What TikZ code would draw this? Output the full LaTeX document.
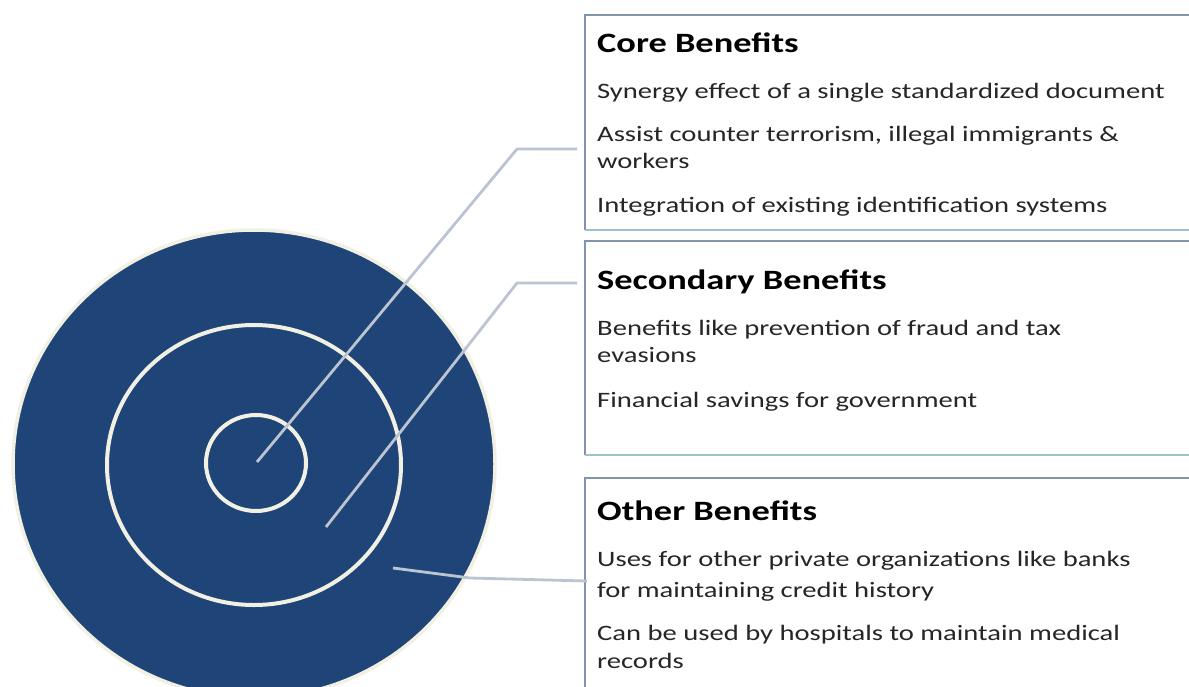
\documentclass[tikz,border=0pt]{standalone}
\usepackage{fontspec}
\setmainfont{Carlito}[FakeStretch=1.3]
\usetikzlibrary{shapes.geometric}
\definecolor{navy}{HTML}{1F4578}
\definecolor{cream}{HTML}{F2EFE3}
\definecolor{leadc}{HTML}{BCC4D2}
\definecolor{boxgray}{HTML}{8293AD}
\definecolor{boxteal}{HTML}{9CC2CD}
\definecolor{txt}{HTML}{262626}
\tikzset{
  ring/.style={draw=cream, ellipse, inner sep=0pt},
  leader/.style={draw=leadc, line width=2.8pt, line join=round},
  boxnode/.style={rectangle, inner sep=0pt, anchor=north west},
  topborder/.style={draw=boxgray, line width=2pt},
  botborder/.style={draw=boxteal, line width=2pt},
  head/.style={anchor=base west, inner sep=0pt, text=black, font=\fontsize{28}{32}\selectfont\bfseries},
  body/.style={anchor=base west, inner sep=0pt, text=txt, font=\fontsize{22}{27}\selectfont},
}
\begin{document}
\begin{tikzpicture}[x=1pt,y=-1pt]
\useasboundingbox (0,0) rectangle (1189,686);
\clip (0,0) rectangle (1189,686);
\fill[white] (0,0) rectangle (1189,686);

% target
\node[ring, fill=navy, line width=3.5pt, minimum width=482pt, minimum height=468pt] (outer) at (254,464) {};
\node[ring, line width=4pt, minimum width=294pt, minimum height=280pt] (middle) at (254,465) {};
\node[ring, line width=4pt, minimum width=100pt, minimum height=96pt] (inner) at (256,463) {};

% boxes
\node[boxnode, minimum width=620pt, minimum height=215pt] (b1) at (585,15) {};
\node[boxnode, minimum width=620pt, minimum height=214pt] (b2) at (585,241) {};
\node[boxnode, minimum width=620pt, minimum height=230pt] (b3) at (585,478) {};
\draw[topborder] (b1.south west) -- (b1.north west) -- (b1.north east);
\draw[botborder] (b1.south west) -- (b1.south east);
\draw[topborder] (b2.south west) -- (b2.north west) -- (b2.north east);
\draw[botborder] (b2.south west) -- (b2.south east);
\draw[topborder] (b3.south west) -- (b3.north west) -- (b3.north east);

% leader lines
\coordinate (p1) at (257,462);
\coordinate (k1) at (517,149);
\coordinate (e1) at (577,149);
\coordinate (p2) at (326,527);
\coordinate (k2) at (517,283);
\coordinate (e2) at (577,283);
\coordinate (p3) at (393,568);
\coordinate (k3) at (470,578);
\coordinate (e3) at (587,581);
\draw[leader] (p1) -- (k1) -- (e1);
\draw[leader] (p2) -- (k2) -- (e2);
\draw[leader] (p3) -- (k3) -- (e3);

% texts box 1
\node[head] (h1) at (597,52) {Core Benefits};
\node[body] (t11) at (597,98) {Synergy effect of a single standardized document};
\node[body] (t12) at (597,141) {Assist counter terrorism, illegal immigrants \&};
\node[body] (t13) at (597,168) {workers};
\node[body] (t14) at (597,212) {Integration of existing identification systems};
% box 2
\node[head] (h2) at (597,289) {Secondary Benefits};
\node[body] (t21) at (597,335) {Benefits like prevention of fraud and tax};
\node[body] (t22) at (597,362) {evasions};
\node[body] (t23) at (597,407) {Financial savings for government};
% box 3
\node[head] (h3) at (597,520) {Other Benefits};
\node[body] (t31) at (597,566) {Uses for other private organizations like banks};
\node[body] (t32) at (597,597) {for maintaining credit history};
\node[body] (t33) at (597,640) {Can be used by hospitals to maintain medical};
\node[body] (t34) at (597,668) {records};
\end{tikzpicture}
\end{document}
